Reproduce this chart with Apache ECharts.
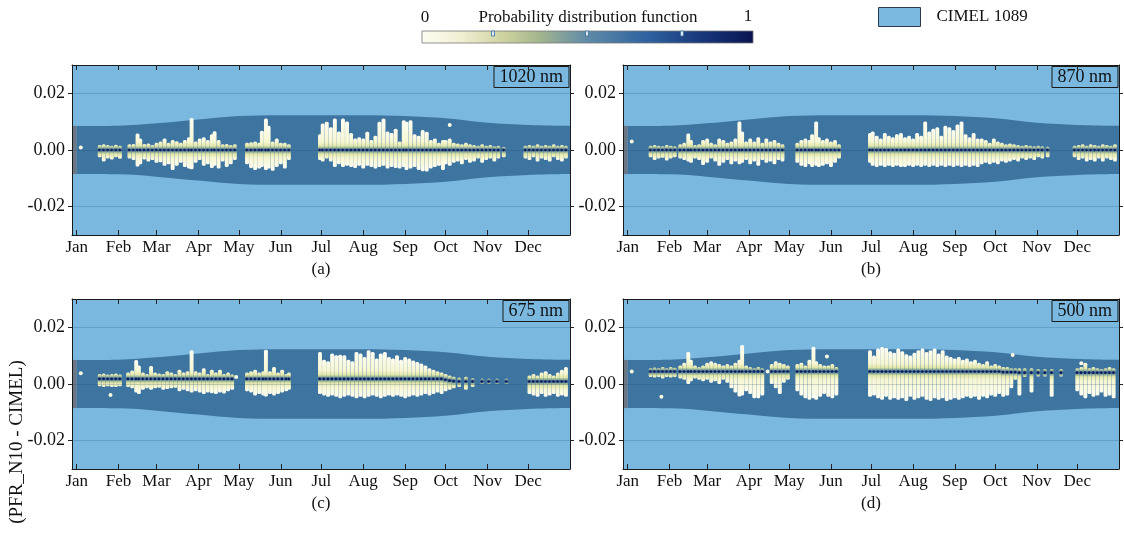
<!DOCTYPE html>
<html>
<head>
<meta charset="utf-8">
<script src="https://cdn.jsdelivr.net/npm/echarts@6/dist/echarts.min.js"></script>
<style>
  html, body { margin: 0; padding: 0; background: #fff; }
  #chart { width: 1124px; height: 533px; }
</style>
</head>
<body>
<div id="chart"></div>
<script>
// month ticks (day of year)
var monthDays = [0, 31, 59, 90, 120, 151, 181, 212, 243, 273, 304, 334];
var monthNames = ['Jan', 'Feb', 'Mar', 'Apr', 'May', 'Jun', 'Jul', 'Aug', 'Sep', 'Oct', 'Nov', 'Dec'];
var yTicks = [-0.02, 0, 0.02];

// CIMEL uncertainty envelope, read at each month start
var envDays = [0, 31, 59, 90, 120, 151, 181, 212, 243, 273, 304, 334, 365];
var envTop = [0.0085, 0.0086, 0.0094, 0.0108, 0.0120, 0.0123, 0.0123, 0.0123, 0.0120, 0.0112, 0.0096, 0.0088, 0.0085];
var envBottom = [-0.0085, -0.0086, -0.0094, -0.0108, -0.0120, -0.0123, -0.0123, -0.0123, -0.0120, -0.0112, -0.0096, -0.0088, -0.0085];

var wavelengths = ['1020 nm', '870 nm', '675 nm', '500 nm'];
var panelTags = ['(a)', '(b)', '(c)', '(d)'];

// differences per few days: [day, lowest, densest, highest]
var streaks1020 = [
  [3,0.0009,0.0009,0.0009],
  [17,-0.0020,0,0.0012],[20,-0.0035,0,0.0015],[23,-0.0025,0,0.0012],[26,-0.0028,0,0.0010],[29,-0.0020,0,0.0013],[32,-0.0026,0,0.0010],
  [39,-0.0025,0,0.0015],[42,-0.0030,0,0.0016],[45,-0.0053,0,0.0053],[47,-0.0045,0,0.0035],[50,-0.0028,0,0.0016],[53,-0.0035,0,0.0018],
  [56,-0.0030,0,0.0012],[59,-0.0040,0,0.0020],[62,-0.0038,0,0.0025],[65,-0.0050,0,0.0035],[68,-0.0045,0,0.0020],[71,-0.0065,0,0.0030],
  [74,-0.0050,0,0.0026],[77,-0.0040,0,0.0020],[80,-0.0055,0,0.0030],[83,-0.0060,0,0.0040],[85,-0.0063,0,0.0108],[88,-0.0040,0,0.0025],
  [91,-0.0030,0,0.0035],[94,-0.0050,0,0.0040],[97,-0.0045,0,0.0030],[100,-0.0058,0,0.0050],[102,-0.0050,0,0.0061],[105,-0.0060,0,0.0030],
  [108,-0.0035,0,0.0015],[111,-0.0055,0,0.0016],[114,-0.0045,0,0.0012],[117,-0.0030,0,0.0015],
  [126,-0.0045,0,0.0020],[129,-0.0058,0,0.0022],[132,-0.0065,0,0.0025],[135,-0.0060,0,0.0020],[137,-0.0055,0,0.0063],[140,-0.0065,0,0.0106],
  [142,-0.0060,0,0.0080],[145,-0.0068,0,0.0025],[148,-0.0055,0,0.0035],[151,-0.0045,0,0.0020],[154,-0.0060,0,0.0020],[157,-0.0030,0,0.0015],
  [180,-0.0030,0,0.0050],[182,-0.0035,0,0.0088],[185,-0.0025,0,0.0094],[188,-0.0035,0,0.0075],[191,-0.0055,0,0.0106],[194,-0.0045,0,0.0060],
  [197,-0.0055,0,0.0106],[200,-0.0050,0,0.0095],[203,-0.0055,0,0.0055],[206,-0.0058,0,0.0035],[209,-0.0050,0,0.0040],[212,-0.0060,0,0.0035],
  [215,-0.0050,0,0.0059],[218,-0.0055,0,0.0030],[221,-0.0060,0,0.0045],[224,-0.0055,0,0.0094],[227,-0.0050,0,0.0106],[230,-0.0060,0,0.0060],
  [233,-0.0055,0,0.0055],[236,-0.0058,0,0.0070],[239,-0.0060,0,0.0025],[242,-0.0055,0,0.0100],[244,-0.0065,0,0.0094],[247,-0.0060,0,0.0100],
  [250,-0.0055,0,0.0050],[253,-0.0065,0,0.0045],[256,-0.0070,0,0.0065],[259,-0.0071,0,0.0059],[262,-0.0060,0,0.0030],[265,-0.0055,0,0.0035],
  [268,-0.0050,0,0.0020],[271,-0.0065,0,0.0030],[273,-0.0045,0,0.0030],[276,0.0088,0.0088,0.0088],[276,-0.0050,0,0.0035],[279,-0.0040,0,0.0020],
  [282,-0.0035,0,0.0018],[285,-0.0045,0,0.0015],[288,-0.0030,0,0.0020],[291,-0.0040,0,0.0015],[294,-0.0035,0,0.0012],[297,-0.0025,0,0.0010],
  [300,-0.0040,0,0.0015],[303,-0.0030,0,0.0010],[306,-0.0025,0,0.0012],[309,-0.0035,0,0.0008],[312,-0.0025,0,0.0010],[316,-0.0020,0,0.0005],
  [332,-0.0025,0,0.0010],[335,-0.0030,0,0.0012],[338,-0.0020,0,0.0010],[341,-0.0035,0,0.0015],[344,-0.0025,0,0.0010],[347,-0.0030,0,0.0012],
  [350,-0.0035,0,0.0010],[353,-0.0020,0,0.0015],[356,-0.0030,0,0.0010],[359,-0.0035,0,0.0012],[362,-0.0025,0,0.0010]
];
var streaks870 = [
  [3,0.0030,0.0030,0.0030],
  [17,-0.0020,0,0.0010],[20,-0.0030,0,0.0012],[23,-0.0025,0,0.0010],[26,-0.0022,0,0.0008],[29,-0.0032,0,0.0012],[32,-0.0025,0,0.0010],[35,-0.0020,0,0.0008],
  [39,-0.0025,0,0.0015],[42,-0.0030,0,0.0020],[45,-0.0035,0,0.0053],[47,-0.0040,0,0.0030],[50,-0.0025,0,0.0012],[53,-0.0030,0,0.0015],
  [56,-0.0048,0,0.0030],[59,-0.0040,0,0.0035],[62,-0.0025,0,0.0020],[65,-0.0035,0,0.0015],[68,-0.0050,0,0.0035],[71,-0.0040,0,0.0030],
  [74,-0.0030,0,0.0020],[77,-0.0045,0,0.0025],[80,-0.0035,0,0.0035],[83,-0.0045,0,0.0095],[85,-0.0040,0,0.0060],[88,-0.0030,0,0.0025],
  [91,-0.0045,0,0.0035],[94,-0.0035,0,0.0025],[97,-0.0050,0,0.0040],[100,-0.0030,0,0.0020],[103,-0.0040,0,0.0035],[106,-0.0035,0,0.0025],
  [109,-0.0045,0,0.0030],[112,-0.0030,0,0.0020],[115,-0.0035,0,0.0015],
  [126,-0.0040,0,0.0020],[129,-0.0050,0,0.0030],[132,-0.0055,0,0.0035],[135,-0.0045,0,0.0030],[137,-0.0055,0,0.0050],[140,-0.0050,0,0.0095],
  [142,-0.0055,0,0.0040],[145,-0.0050,0,0.0030],[148,-0.0045,0,0.0035],[151,-0.0055,0,0.0025],[154,-0.0040,0,0.0030],[157,-0.0025,0,0.0015],
  [180,-0.0040,0,0.0055],[182,-0.0050,0,0.0060],[185,-0.0055,0,0.0045],[188,-0.0050,0,0.0035],[191,-0.0055,0,0.0055],[194,-0.0050,0,0.0045],
  [197,-0.0055,0,0.0040],[200,-0.0050,0,0.0050],[203,-0.0055,0,0.0055],[206,-0.0055,0,0.0040],[209,-0.0050,0,0.0045],[212,-0.0055,0,0.0035],
  [215,-0.0050,0,0.0055],[218,-0.0055,0,0.0045],[221,-0.0050,0,0.0095],[224,-0.0055,0,0.0060],[227,-0.0050,0,0.0070],[230,-0.0055,0,0.0075],
  [233,-0.0050,0,0.0045],[236,-0.0055,0,0.0080],[239,-0.0050,0,0.0075],[242,-0.0055,0,0.0065],[245,-0.0050,0,0.0085],[248,-0.0055,0,0.0095],
  [251,-0.0050,0,0.0050],[254,-0.0055,0,0.0040],[257,-0.0050,0,0.0055],[260,-0.0055,0,0.0035],[263,-0.0045,0,0.0035],[266,-0.0040,0,0.0030],
  [269,-0.0045,0,0.0020],[272,-0.0040,0,0.0035],[275,-0.0045,0,0.0025],[278,-0.0035,0,0.0020],[281,-0.0040,0,0.0015],[284,-0.0035,0,0.0018],
  [287,-0.0030,0,0.0015],[290,-0.0035,0,0.0012],[293,-0.0025,0,0.0010],[296,-0.0030,0,0.0012],[299,-0.0025,0,0.0010],[302,-0.0030,0,0.0008],
  [305,-0.0020,0,0.0010],[308,-0.0025,0,0.0008],[312,-0.0020,0,0.0006],
  [332,-0.0020,0,0.0010],[335,-0.0030,0,0.0012],[338,-0.0025,0,0.0015],[341,-0.0035,0,0.0010],[344,-0.0030,0,0.0015],[347,-0.0035,0,0.0012],
  [350,-0.0025,0,0.0010],[353,-0.0035,0,0.0015],[356,-0.0025,0,0.0012],[359,-0.0030,0,0.0010],[362,-0.0035,0,0.0015]
];
var streaks675 = [
  [3,0.0038,0.0038,0.0038],[25,-0.0039,-0.0039,-0.0039],
  [17,-0.0003,0.0018,0.0030],[20,-0.0005,0.0018,0.0032],[23,-0.0003,0.0018,0.0028],[26,-0.0005,0.0018,0.0030],[29,-0.0005,0.0018,0.0032],[32,-0.0003,0.0018,0.0028],
  [38,-0.0005,0.0018,0.0035],[41,-0.0010,0.0018,0.0042],[44,-0.0025,0.0018,0.0079],[46,-0.0030,0.0018,0.0060],[49,-0.0015,0.0018,0.0035],
  [52,-0.0010,0.0018,0.0030],[55,-0.0015,0.0018,0.0058],[58,-0.0010,0.0018,0.0035],[61,-0.0008,0.0018,0.0032],[64,-0.0015,0.0018,0.0030],
  [67,-0.0012,0.0018,0.0040],[70,-0.0010,0.0018,0.0035],[73,-0.0008,0.0018,0.0030],[76,-0.0020,0.0018,0.0045],[79,-0.0015,0.0018,0.0035],
  [82,-0.0020,0.0018,0.0040],[85,-0.0025,0.0018,0.0114],[88,-0.0020,0.0018,0.0040],[91,-0.0025,0.0018,0.0035],[94,-0.0030,0.0018,0.0050],
  [97,-0.0025,0.0018,0.0030],[100,-0.0027,0.0018,0.0045],[103,-0.0030,0.0018,0.0035],[106,-0.0025,0.0018,0.0045],[109,-0.0028,0.0018,0.0030],
  [112,-0.0020,0.0018,0.0035],[115,-0.0015,0.0018,0.0028],[118,0.0025,0.0025,0.0025],
  [126,-0.0020,0.0018,0.0035],[129,-0.0025,0.0018,0.0040],[132,-0.0035,0.0018,0.0045],[135,-0.0030,0.0018,0.0035],[138,-0.0035,0.0018,0.0040],
  [140,-0.0039,0.0018,0.0116],[143,-0.0030,0.0018,0.0040],[146,-0.0035,0.0018,0.0055],[149,-0.0030,0.0018,0.0035],[152,-0.0025,0.0018,0.0045],
  [155,-0.0020,0.0018,0.0030],[157,-0.0015,0.0018,0.0035],
  [180,-0.0030,0.0018,0.0108],[183,-0.0035,0.0018,0.0080],[186,-0.0040,0.0018,0.0075],[189,-0.0035,0.0018,0.0102],[192,-0.0040,0.0018,0.0096],
  [195,-0.0045,0.0018,0.0098],[198,-0.0040,0.0018,0.0096],[201,-0.0035,0.0018,0.0080],[204,-0.0040,0.0018,0.0075],[207,-0.0045,0.0018,0.0108],
  [210,-0.0040,0.0018,0.0102],[213,-0.0045,0.0018,0.0090],[216,-0.0040,0.0018,0.0114],[219,-0.0035,0.0018,0.0108],[222,-0.0040,0.0018,0.0085],
  [225,-0.0045,0.0018,0.0102],[228,-0.0040,0.0018,0.0108],[231,-0.0035,0.0018,0.0090],[234,-0.0040,0.0018,0.0085],[237,-0.0035,0.0018,0.0096],
  [240,-0.0040,0.0018,0.0080],[243,-0.0045,0.0018,0.0090],[246,-0.0040,0.0018,0.0085],[249,-0.0035,0.0018,0.0078],[252,-0.0040,0.0018,0.0072],
  [255,-0.0035,0.0018,0.0067],[258,-0.0030,0.0018,0.0060],[261,-0.0035,0.0018,0.0050],[264,-0.0030,0.0018,0.0045],[267,-0.0025,0.0018,0.0040],
  [270,-0.0030,0.0018,0.0035],[273,-0.0020,0.0015,0.0030],[276,-0.0015,0.0012,0.0025],[279,-0.0010,0.0010,0.0020],[283,-0.0005,0.0009,0.0018],
  [288,-0.0015,0.0009,0.0020],[293,-0.0005,0.0009,0.0015],[300,0.0005,0.0009,0.0013],[305,0.0005,0.0009,0.0013],[311,0.0005,0.0009,0.0013],
  [318,0.0005,0.0009,0.0013],
  [335,-0.0030,0.0009,0.0025],[338,-0.0035,0.0009,0.0030],[341,-0.0040,0.0009,0.0025],[344,-0.0030,0.0009,0.0035],[347,-0.0040,0.0009,0.0040],
  [350,-0.0035,0.0009,0.0030],[353,-0.0030,0.0009,0.0025],[356,-0.0040,0.0009,0.0035],[359,-0.0035,0.0009,0.0045],[362,-0.0040,0.0009,0.0055]
];
var streaks500 = [
  [3,0.0044,0.0044,0.0044],[25,-0.0045,-0.0045,-0.0045],
  [17,0.0030,0.0044,0.0050],[20,0.0028,0.0044,0.0053],[23,0.0030,0.0044,0.0050],[26,0.0025,0.0044,0.0055],[29,0.0030,0.0044,0.0050],
  [32,0.0028,0.0044,0.0055],[35,0.0030,0.0044,0.0052],
  [39,0.0025,0.0044,0.0060],[42,0.0020,0.0044,0.0070],[45,0.0005,0.0044,0.0108],[47,0.0015,0.0044,0.0080],[50,0.0025,0.0044,0.0060],
  [53,0.0020,0.0044,0.0055],[56,0.0015,0.0044,0.0060],[59,0.0020,0.0044,0.0070],[62,0.0010,0.0044,0.0075],[65,0.0015,0.0044,0.0070],
  [68,0.0005,0.0044,0.0065],[71,0.0020,0.0044,0.0060],[74,0.0010,0.0044,0.0065],[77,-0.0010,0.0044,0.0060],[80,-0.0025,0.0044,0.0070],
  [83,-0.0039,0.0044,0.0080],[85,-0.0035,0.0044,0.0132],[88,-0.0020,0.0044,0.0060],[91,-0.0030,0.0044,0.0055],[94,-0.0045,0.0044,0.0050],
  [97,-0.0045,0.0044,0.0055],[100,-0.0035,0.0044,0.0050],[104,0.0044,0.0044,0.0044],[107,0.0005,0.0044,0.0065],[110,-0.0010,0.0044,0.0075],
  [113,-0.0030,0.0044,0.0070],[116,0.0010,0.0044,0.0065],[119,0.0020,0.0044,0.0060],
  [126,-0.0020,0.0044,0.0065],[129,-0.0035,0.0044,0.0070],[132,-0.0045,0.0044,0.0060],[135,-0.0050,0.0044,0.0080],[138,-0.0045,0.0044,0.0126],
  [140,-0.0050,0.0044,0.0075],[143,-0.0040,0.0044,0.0065],[146,-0.0030,0.0044,0.0060],[148,0.0097,0.0097,0.0097],[149,-0.0040,0.0044,0.0060],
  [152,-0.0045,0.0044,0.0065],[155,-0.0035,0.0044,0.0055],
  [180,-0.0040,0.0044,0.0114],[183,-0.0035,0.0044,0.0095],[186,-0.0045,0.0044,0.0120],[189,-0.0050,0.0044,0.0125],[192,-0.0040,0.0044,0.0122],
  [195,-0.0050,0.0044,0.0110],[198,-0.0045,0.0044,0.0105],[201,-0.0050,0.0044,0.0120],[204,-0.0045,0.0044,0.0110],[207,-0.0055,0.0044,0.0100],
  [210,-0.0040,0.0044,0.0095],[213,-0.0050,0.0044,0.0105],[216,-0.0045,0.0044,0.0114],[219,-0.0040,0.0044,0.0120],[222,-0.0050,0.0044,0.0108],
  [225,-0.0055,0.0044,0.0114],[228,-0.0045,0.0044,0.0120],[231,-0.0050,0.0044,0.0102],[234,-0.0045,0.0044,0.0114],[237,-0.0055,0.0044,0.0095],
  [240,-0.0050,0.0044,0.0090],[243,-0.0045,0.0044,0.0085],[246,-0.0050,0.0044,0.0090],[249,-0.0045,0.0044,0.0080],[252,-0.0040,0.0044,0.0085],
  [255,-0.0045,0.0044,0.0075],[258,-0.0040,0.0044,0.0080],[261,-0.0050,0.0044,0.0070],[264,-0.0040,0.0044,0.0065],[267,-0.0045,0.0044,0.0075],
  [270,-0.0035,0.0044,0.0060],[273,-0.0040,0.0044,0.0065],[276,-0.0030,0.0044,0.0060],[279,-0.0040,0.0042,0.0055],[282,-0.0035,0.0042,0.0055],
  [285,-0.0010,0.0042,0.0050],[286,0.0102,0.0102,0.0102],[288,0.0020,0.0042,0.0050],[291,-0.0035,0.0040,0.0050],[295,0.0030,0.0040,0.0050],
  [300,-0.0025,0.0040,0.0050],[305,0.0032,0.0040,0.0048],[310,0.0032,0.0040,0.0048],[315,-0.0040,0.0040,0.0048],[322,0.0032,0.0040,0.0048],
  [334,-0.0020,0.0040,0.0050],[337,-0.0035,0.0040,0.0055],[337,0.0073,0.0073,0.0073],[340,-0.0045,0.0040,0.0070],[343,-0.0030,0.0040,0.0050],
  [346,-0.0040,0.0040,0.0055],[349,-0.0035,0.0040,0.0050],[352,-0.0025,0.0040,0.0048],[355,-0.0040,0.0040,0.0050],[358,-0.0035,0.0040,0.0055],
  [361,-0.0045,0.0040,0.0050]
];
var panelStreaks = [streaks1020, streaks870, streaks675, streaks500];

var SERIF = 'Liberation Serif';
var LIGHT = '#7ab8df';
var BAND = '#3e74a0';
var STRIP = '#6b7783';
var INK = '#111';

var boxes = [
  { left: 72, top: 65, width: 498, height: 170 },
  { left: 623, top: 65, width: 496, height: 170 },
  { left: 72, top: 299, width: 498, height: 170 },
  { left: 623, top: 299, width: 496, height: 170 }
];

function clamp01(v) { return Math.max(0, Math.min(1, v)); }

function renderStreak(params, api) {
  var day = api.value(0), lo = api.value(1), mid = api.value(2), hi = api.value(3);
  var pTop = api.coord([day, hi]);
  var pBot = api.coord([day, lo]);
  var pMid = api.coord([day, mid]);
  var w = Math.max(api.size([2.9, 0])[0], 3);
  if (hi === lo) {
    return { type: 'circle', shape: { cx: pTop[0], cy: pTop[1], r: 2 }, style: { fill: '#fafae2' } };
  }
  var top = pTop[1] - 1.5;
  var H = pBot[1] - pTop[1] + 3;
  var c = (pMid[1] - top) / H;
  var d = 2 / H;
  var stops = [
    { offset: 0, color: '#fdfdf2' },
    { offset: clamp01(c - 4 * d), color: '#f6f6d2' },
    { offset: clamp01(c - 2 * d), color: '#e2e6a8' },
    { offset: clamp01(c - d), color: '#8fae96' },
    { offset: clamp01(c), color: '#2b4f8c' },
    { offset: clamp01(c + d), color: '#8fae96' },
    { offset: clamp01(c + 2 * d), color: '#e2e6a8' },
    { offset: clamp01(c + 4 * d), color: '#f6f6d2' },
    { offset: 1, color: '#fdfdf2' }
  ];
  return {
    type: 'group',
    children: [
      { type: 'rect', shape: { x: pTop[0] - w / 2, y: top, width: w, height: H, r: 1.5 },
        style: { fill: { type: 'linear', x: 0, y: 0, x2: 0, y2: 1, colorStops: stops } } },
      { type: 'rect', shape: { x: pTop[0] - w / 2 + 0.5, y: pMid[1] - 1.3, width: w - 1.5, height: 2.6, r: 1 },
        style: { fill: '#0d1c60' } }
    ]
  };
}

var grid = [], xAxis = [], yAxis = [], series = [], title = [];

boxes.forEach(function (b, i) {
  grid.push({
    left: b.left, top: b.top, width: b.width, height: b.height,
    show: true, backgroundColor: LIGHT, borderWidth: 0,
    outerBoundsMode: 'none'
  });
  var tickStyle = { show: true, inside: true, length: 5, customValues: monthDays, lineStyle: { color: '#222', width: 1 } };
  xAxis.push({
    type: 'value', gridIndex: i, min: -3.5, max: 365, position: 'bottom', z: 10,
    axisLine: { show: true, onZero: false, lineStyle: { color: '#1a1a1a', width: 1 } },
    axisTick: tickStyle,
    axisLabel: {
      customValues: monthDays, margin: 4,
      fontFamily: SERIF, fontSize: 17, color: INK,
      formatter: function (v) { return monthNames[monthDays.indexOf(v)]; }
    },
    splitLine: { show: false },
    name: panelTags[i], nameLocation: 'middle', nameGap: 26,
    nameTextStyle: { fontFamily: SERIF, fontSize: 17, color: INK }
  });
  xAxis.push({
    type: 'value', gridIndex: i, min: -3.5, max: 365, position: 'top', z: 10,
    axisLine: { show: true, onZero: false, lineStyle: { color: '#1a1a1a', width: 1 } },
    axisTick: tickStyle,
    axisLabel: { show: false },
    splitLine: { show: false }
  });
  var yTickStyle = { show: true, inside: false, length: 4, customValues: yTicks, lineStyle: { color: '#222', width: 1 } };
  yAxis.push({
    type: 'value', gridIndex: i, min: -0.03, max: 0.03, position: 'left', z: 10,
    axisLine: { show: true, onZero: false, lineStyle: { color: '#1a1a1a', width: 1 } },
    axisTick: yTickStyle,
    axisLabel: {
      customValues: yTicks, margin: 7,
      fontFamily: SERIF, fontSize: 18, color: INK,
      formatter: function (v) { return v.toFixed(2); }
    },
    splitLine: { show: false }
  });
  yAxis.push({
    type: 'value', gridIndex: i, min: -0.03, max: 0.03, position: 'right', z: 10,
    axisLine: { show: true, onZero: false, lineStyle: { color: '#1a1a1a', width: 1 } },
    axisTick: yTickStyle,
    axisLabel: { show: false },
    splitLine: { show: false }
  });

  var xi = 2 * i, yi = 2 * i;
  // envelope band, upper and lower halves filled to zero
  series.push({
    type: 'line', xAxisIndex: xi, yAxisIndex: yi, z: 2, silent: true,
    data: envDays.map(function (d, k) { return [d, envTop[k]]; }),
    smooth: 0.35, symbol: 'none', lineStyle: { width: 0 },
    areaStyle: { color: BAND, opacity: 1, origin: 'auto' },
    markArea: {
      silent: true, itemStyle: { color: STRIP },
      data: [[{ xAxis: -3.5, yAxis: envBottom[0] }, { xAxis: 0, yAxis: envTop[0] }]]
    }
  });
  series.push({
    type: 'line', xAxisIndex: xi, yAxisIndex: yi, z: 2, silent: true,
    data: envDays.map(function (d, k) { return [d, envBottom[k]]; }),
    smooth: 0.35, symbol: 'none', lineStyle: { width: 0 },
    areaStyle: { color: BAND, opacity: 1, origin: 'auto' }
  });
  // faint horizontal grid lines
  series.push({
    type: 'line', name: 'CIMEL 1089', xAxisIndex: xi, yAxisIndex: yi, z: 3, silent: true,
    data: [], itemStyle: { color: LIGHT },
    markLine: {
      silent: true, symbol: ['none', 'none'], label: { show: false },
      lineStyle: { color: 'rgba(25,60,100,0.2)', width: 1, type: 'solid' },
      data: yTicks.map(function (t) { return { yAxis: t }; })
    }
  });
  series.push({
    type: 'custom', xAxisIndex: xi, yAxisIndex: yi, z: 4, silent: true, clip: true,
    renderItem: renderStreak,
    encode: { x: 0, y: [1, 2, 3] },
    data: panelStreaks[i]
  });

  title.push({
    text: wavelengths[i],
    right: 1124 - (b.left + b.width) + 1, top: b.top + 1,
    padding: [2, 6], borderColor: '#1a1a1a', borderWidth: 1,
    textStyle: { fontFamily: SERIF, fontSize: 18, fontWeight: 'normal', color: INK }
  });
});

var chart = echarts.init(document.getElementById('chart'), null, { renderer: 'canvas' });
chart.setOption({
  backgroundColor: '#fff',
  animation: false,
  title: title,
  legend: {
    left: 873, top: 2, itemWidth: 42, itemHeight: 19, selectedMode: false,
    data: [{ name: 'CIMEL 1089', icon: 'rect', itemStyle: { color: LIGHT, borderColor: '#2a3b4c', borderWidth: 1 } }],
    textStyle: { fontFamily: SERIF, fontSize: 17, color: INK, padding: [0, 0, 0, 11] }
  },
  grid: grid,
  xAxis: xAxis,
  yAxis: yAxis,
  series: series,
  graphic: [
    {
      type: 'rect', shape: { x: 422, y: 31, width: 331, height: 12 },
      style: {
        fill: { type: 'linear', x: 0, y: 0, x2: 1, y2: 0, colorStops: [
          { offset: 0, color: '#fdfdf3' }, { offset: 0.12, color: '#f0efd2' },
          { offset: 0.25, color: '#cdd2a0' }, { offset: 0.35, color: '#a6b78e' },
          { offset: 0.5, color: '#5f8ba8' }, { offset: 0.68, color: '#2f62a0' },
          { offset: 0.85, color: '#17367a' }, { offset: 1, color: '#0a1450' }
        ] },
        stroke: '#777', lineWidth: 0.8
      }
    },
    { type: 'rect', shape: { x: 491.5, y: 31, width: 3, height: 5 }, style: { fill: '#dde8f0', stroke: '#3a6fa0', lineWidth: 0.8 } },
    { type: 'rect', shape: { x: 585.5, y: 31, width: 3, height: 5 }, style: { fill: '#dde8f0', stroke: '#3a6fa0', lineWidth: 0.8 } },
    { type: 'rect', shape: { x: 680.5, y: 31, width: 3, height: 5 }, style: { fill: '#dde8f0', stroke: '#3a6fa0', lineWidth: 0.8 } },
    { type: 'text', x: 425, y: 18, style: { text: '0', font: '17px "Liberation Serif"', fill: INK, align: 'center', verticalAlign: 'middle' } },
    { type: 'text', x: 588, y: 18, style: { text: 'Probability distribution function', font: '17px "Liberation Serif"', fill: INK, align: 'center', verticalAlign: 'middle' } },
    { type: 'text', x: 748, y: 17, style: { text: '1', font: '17px "Liberation Serif"', fill: INK, align: 'center', verticalAlign: 'middle' } },
    { type: 'text', x: 17, y: 442, rotation: Math.PI / 2, style: { text: '(PFR_N10 - CIMEL)', font: '19px "Liberation Serif"', fill: INK, align: 'center', verticalAlign: 'middle' } }
  ]
});
</script>
</body>
</html>
